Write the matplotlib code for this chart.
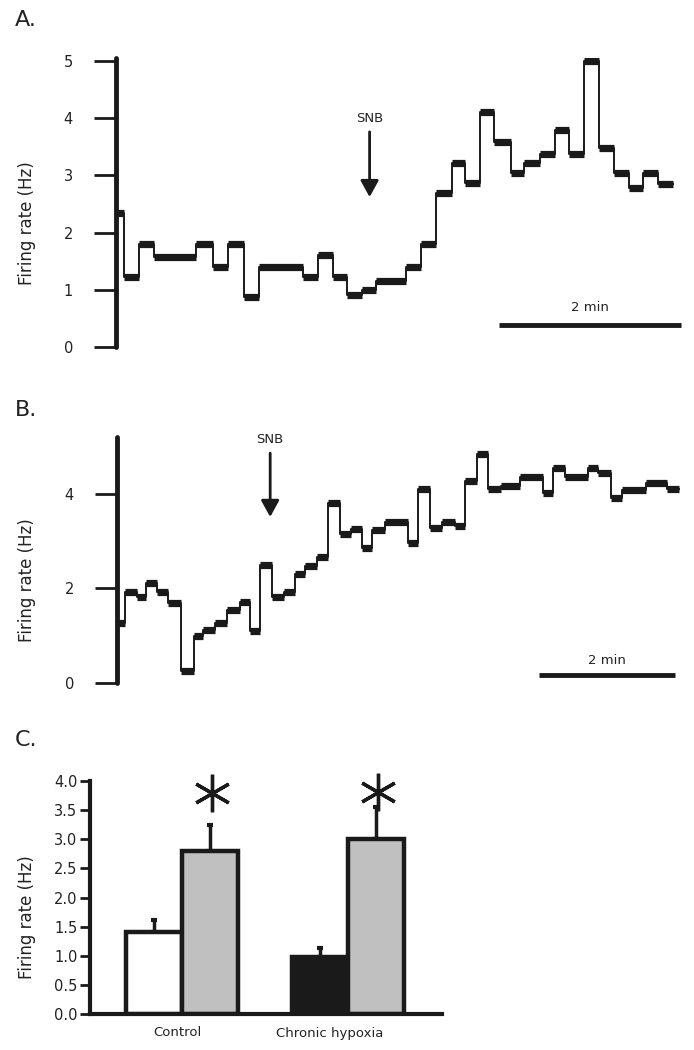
import numpy as np
import matplotlib
matplotlib.use('Agg')
import matplotlib.pyplot as plt

# panel A: step edges (s) and firing rate levels (Hz)
a_edges = [0, 5, 15, 25, 53, 64, 74, 84, 94, 123, 133, 143, 152, 162, 171, 191,
           201, 211, 221, 230, 240, 249, 260, 269, 279, 289, 298, 308, 318, 328,
           338, 347, 357, 367]
a_rate = [2.35, 1.22, 1.80, 1.57, 1.80, 1.40, 1.80, 0.88, 1.40, 1.23, 1.60, 1.22,
          0.90, 1.00, 1.15, 1.40, 1.80, 2.69, 3.22, 2.86, 4.11, 3.58, 3.04, 3.21,
          3.37, 3.79, 3.37, 5.00, 3.48, 3.04, 2.78, 3.04, 2.85]
a_snb = 167

# panel B
b_edges = [0, 7, 17.6, 25.6, 35.3, 45, 56.4, 68, 75.9, 86.4, 97, 108.5, 117.3, 126,
           136.7, 147, 157, 166, 176.4, 186, 196.7, 206.4, 216, 225, 236, 256.7,
           265.5, 276, 286.7, 298, 307, 317.5, 327, 338, 355.5, 375.7, 384.5, 395,
           415, 424, 435, 445, 466, 485, 495.7]
b_rate = [1.27, 1.93, 1.82, 2.11, 1.93, 1.70, 0.25, 1.00, 1.12, 1.27, 1.54, 1.71,
          1.10, 2.49, 1.82, 1.93, 2.30, 2.47, 2.66, 3.80, 3.14, 3.25, 2.85, 3.23,
          3.40, 2.96, 4.10, 3.28, 3.40, 3.32, 4.27, 4.84, 4.10, 4.16, 4.36, 4.02,
          4.54, 4.36, 4.54, 4.44, 3.91, 4.08, 4.23, 4.10]
b_snb = 135

# panel C
groups = ['Control', 'Chronic hypoxia']
base = [1.40, 0.98]
base_err = [0.21, 0.15]
snb = [2.80, 3.00]
snb_err = [0.45, 0.55]

W, H = 694, 1050
fig = plt.figure(figsize=(W / 100, H / 100), dpi=100)
ink = '#1a1a1a'


def px_axes(x0, y0, x1, y1):
    return fig.add_axes([x0 / W, 1 - y1 / H, (x1 - x0) / W, (y1 - y0) / H])


def trace_panel(ax, edges, rate, ymax, ticks, snb_t, snb_txt_y, arr_top, arr_bot,
                bar_x, bar_y, xmax):
    edges = np.array(edges)
    rate = np.array(rate)
    ax.hlines(rate, edges[:-1], edges[1:], color=ink, lw=5.2, capstyle='butt')
    ax.step(edges, np.append(rate, rate[-1]), where='post', color=ink, lw=1.4)
    ax.set_xlim(0, xmax)
    ax.set_ylim(0, ymax)
    for s in ['top', 'right', 'bottom']:
        ax.spines[s].set_visible(False)
    ax.spines['left'].set_linewidth(3.5)
    ax.spines['left'].set_color(ink)
    ax.spines['left'].set_capstyle('round')
    ax.set_xticks([])
    ax.set_yticks(ticks)
    ax.tick_params(axis='y', length=16, width=2, color=ink, pad=15, labelsize=10.5,
                   labelcolor='#222222')
    ax.text(snb_t, snb_txt_y, 'SNB', ha='center', va='center', fontsize=9.5,
            color='#222222')
    ax.annotate('', xy=(snb_t, arr_bot), xytext=(snb_t, arr_top),
                arrowprops=dict(arrowstyle='-|>,head_length=1.0,head_width=0.55',
                                color=ink, lw=2, shrinkA=0, shrinkB=0))
    ax.plot(bar_x, [bar_y, bar_y], color=ink, lw=3.5, solid_capstyle='butt',
            clip_on=False)
    ax.text(np.mean(bar_x), bar_y + 0.3 * ymax / 5, '2 min', ha='center',
            va='center', fontsize=9.5, color='#222222')


axA = px_axes(116, 58, 690, 347)
trace_panel(axA, a_edges, a_rate, 5.05, [0, 1, 2, 3, 4, 5], a_snb, 4.0, 3.76, 2.62,
            [252.4, 372.4], 0.385, 378)

axB = px_axes(117, 437, 690, 683)
trace_panel(axB, b_edges, b_rate, 5.2, [0, 2, 4], b_snb, 5.14, 4.86, 3.51,
            [372, 492], 0.17, 505)

axC = px_axes(90, 781, 442, 1014)
x = np.arange(len(groups))
w = 0.34
axC.errorbar(x - w / 2, base, yerr=[[0, 0], base_err], fmt='none', ecolor=ink,
             elinewidth=2.5, capsize=2, capthick=3, zorder=1)
axC.errorbar(x + w / 2, snb, yerr=[[0, 0], snb_err], fmt='none', ecolor=ink,
             elinewidth=2.5, capsize=2, capthick=3, zorder=1)
axC.bar(x - w / 2, base, w, color=['white', ink], edgecolor=ink, lw=3.2, zorder=2)
axC.bar(x + w / 2, snb, w, color='#c0c0c0', edgecolor=ink, lw=3.2, zorder=2)
axC.plot(x + w / 2 + 0.01, [3.79, 3.81], ls='none', marker=(6, 2, 0), ms=27,
         mew=2.4, color=ink, clip_on=False)
axC.set_xlim(-0.554, 1.566)
axC.set_ylim(0, 4.0)
axC.set_yticks(np.arange(0, 4.01, 0.5))
axC.set_yticklabels(['%.1f' % v for v in np.arange(0, 4.01, 0.5)])
axC.set_xticks(x - np.array([0.03, 0.11]))
axC.set_xticklabels(groups)
for s in ['top', 'right']:
    axC.spines[s].set_visible(False)
for s in ['left', 'bottom']:
    axC.spines[s].set_linewidth(3)
    axC.spines[s].set_color(ink)
axC.tick_params(axis='y', length=7, width=2, color=ink, pad=2, labelsize=10.5,
                labelcolor='#222222')
axC.tick_params(axis='x', length=0, pad=9, labelsize=9.5, labelcolor='#222222')

for txt, yy in [('Firing rate (Hz)', 223), ('Firing rate (Hz)', 580),
                ('Firing rate (Hz)', 917)]:
    fig.text(27 / W, 1 - yy / H, txt, rotation=90, ha='center', va='center',
             fontsize=12, color='#222222')
for lab, yy in [('A.', 20), ('B.', 410), ('C.', 740)]:
    fig.text(15 / W, 1 - yy / H, lab, ha='left', va='center', fontsize=16,
             color='#222222')

fig.savefig('out.png', dpi=100)
